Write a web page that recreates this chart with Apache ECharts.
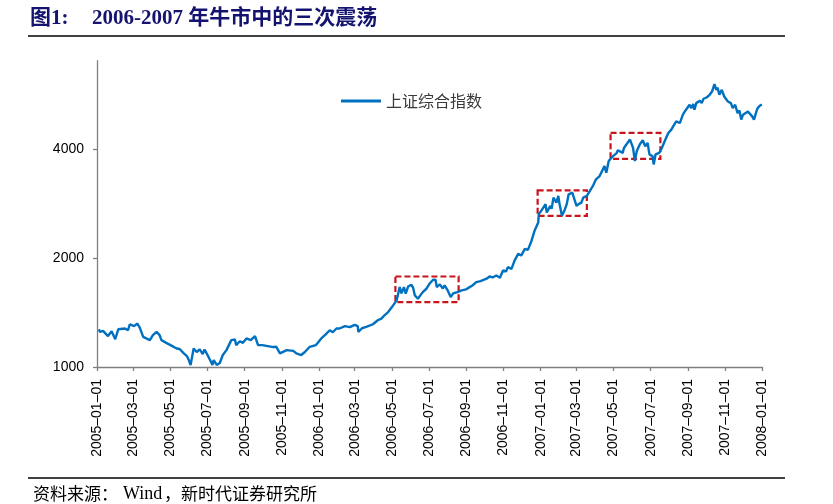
<!DOCTYPE html>
<html><head><meta charset="utf-8">
<script src="https://cdn.jsdelivr.net/npm/echarts@6/dist/echarts.min.js"></script>
<style>html,body{margin:0;padding:0;background:#fff}#c{width:833px;height:504px}</style>
</head><body><div id="c"></div>
<script>
const seriesName = '上证综合指数';
const dates = [
'2005-01-04','2005-01-06','2005-01-11','2005-01-19','2005-01-25','2005-01-31','2005-02-05','2005-02-16','2005-02-21','2005-02-24',
'2005-03-03','2005-03-08','2005-03-12','2005-03-18','2005-03-29','2005-04-03','2005-04-09','2005-04-14','2005-04-17','2005-04-25',
'2005-05-02','2005-05-12','2005-05-17','2005-05-23','2005-05-29','2005-06-01','2005-06-04','2005-06-09','2005-06-14','2005-06-19',
'2005-06-24','2005-06-27','2005-07-01','2005-07-06','2005-07-10','2005-07-12','2005-07-17','2005-07-22','2005-07-27','2005-08-02',
'2005-08-10','2005-08-16','2005-08-18','2005-08-24','2005-08-29','2005-09-04','2005-09-11','2005-09-18','2005-09-23','2005-09-30',
'2005-10-09','2005-10-18','2005-10-23','2005-10-29','2005-11-09','2005-11-20','2005-11-25','2005-12-03','2005-12-09','2005-12-17',
'2005-12-27','2006-01-05','2006-01-11','2006-01-19','2006-01-24','2006-01-30','2006-02-04','2006-02-13','2006-02-21','2006-03-01',
'2006-03-06','2006-03-07','2006-03-13','2006-03-20','2006-03-31','2006-04-08','2006-04-14','2006-04-19','2006-04-25','2006-05-01',
'2006-05-09','2006-05-14','2006-05-17','2006-05-21','2006-05-24','2006-05-28','2006-06-02','2006-06-05','2006-06-08','2006-06-13',
'2006-06-17','2006-06-21','2006-06-27','2006-07-02','2006-07-08','2006-07-12','2006-07-14','2006-07-19','2006-07-24','2006-07-27',
'2006-08-01','2006-08-06','2006-08-10','2006-08-13','2006-08-17','2006-08-24','2006-08-31','2006-09-06','2006-09-11','2006-09-17',
'2006-09-24','2006-10-04','2006-10-09','2006-10-14','2006-10-20','2006-10-26','2006-10-31','2006-11-05','2006-11-08','2006-11-14',
'2006-11-19','2006-11-25','2006-11-30','2006-12-06','2006-12-11','2006-12-17','2006-12-22','2006-12-28','2006-12-29','2007-01-03',
'2007-01-09','2007-01-11','2007-01-17','2007-01-19','2007-01-22','2007-01-27','2007-01-30','2007-02-01','2007-02-05','2007-02-09',
'2007-02-13','2007-02-16','2007-02-22','2007-02-25','2007-03-01','2007-03-05','2007-03-09','2007-03-12','2007-03-15','2007-03-18',
'2007-03-23','2007-03-28','2007-04-02','2007-04-08','2007-04-11','2007-04-16','2007-04-19','2007-04-23','2007-04-26','2007-04-30',
'2007-05-06','2007-05-08','2007-05-11','2007-05-16','2007-05-18','2007-05-22','2007-05-28','2007-05-30','2007-06-02','2007-06-05',
'2007-06-08','2007-06-13','2007-06-18','2007-06-22','2007-06-26','2007-06-29','2007-07-04','2007-07-06','2007-07-09','2007-07-15',
'2007-07-19','2007-07-24','2007-07-30','2007-08-04','2007-08-07','2007-08-12','2007-08-15','2007-08-18','2007-08-23','2007-08-27',
'2007-09-03','2007-09-06','2007-09-09','2007-09-11','2007-09-14','2007-09-20','2007-09-23','2007-09-26','2007-10-01','2007-10-06',
'2007-10-10','2007-10-14','2007-10-17','2007-10-19','2007-10-22','2007-10-26','2007-10-30','2007-11-02','2007-11-05','2007-11-10',
'2007-11-13','2007-11-17','2007-11-21','2007-11-24','2007-11-27','2007-11-30','2007-12-03','2007-12-08','2007-12-11','2007-12-15',
'2007-12-18','2007-12-22','2007-12-24','2007-12-28','2007-12-31'
];
const values = [
1270,1250,1258,1217,1255,1193,1271,1277,1263,1312,
1296,1318,1288,1211,1186,1224,1250,1224,1186,1166,
1149,1125,1121,1094,1072,1045,1013,1125,1100,1118,
1086,1118,1086,1045,1013,1045,1013,1026,1079,1113,
1186,1191,1149,1178,1166,1199,1186,1217,1149,1149,
1142,1135,1137,1090,1113,1108,1090,1079,1100,1137,
1149,1199,1224,1263,1247,1277,1277,1296,1288,1307,
1296,1250,1279,1290,1312,1346,1360,1389,1418,1461,
1527,1661,1596,1661,1593,1668,1686,1657,1576,1543,
1576,1609,1644,1697,1741,1741,1661,1690,1647,1679,
1627,1559,1596,1576,1609,1627,1637,1661,1679,1715,
1725,1752,1777,1766,1788,1763,1846,1835,1885,1866,
1966,2051,2030,2117,2104,2231,2377,2505,2641,2714,
2813,2668,2783,2731,2932,2842,2965,2819,2613,2697,
2819,2996,3027,3000,2783,2819,2842,2932,2904,2965,
3060,3158,3295,3364,3401,3583,3435,3699,3753,3818,
3890,3964,4008,3898,4022,4109,4242,4285,4022,3699,
3940,4109,4222,4067,4153,3859,3818,3622,3859,3898,
4008,4196,4423,4519,4614,4763,4814,4711,4969,5095,
5292,5180,5314,5127,5346,5427,5346,5497,5541,5636,
5756,6028,5818,5901,5636,5818,5577,5636,5404,5346,
5180,5292,5018,5105,4814,4969,4914,5072,5127,4914,
4814,5072,5180,5268,5300
];
const xTickDates = ['2005-01-01','2005-03-01','2005-05-01','2005-07-01','2005-09-01','2005-11-01',
'2006-01-01','2006-03-01','2006-05-01','2006-07-01','2006-09-01','2006-11-01',
'2007-01-01','2007-03-01','2007-05-01','2007-07-01','2007-09-01','2007-11-01','2008-01-01'];
const yTicks = [1000, 2000, 4000];
const yMin = 1000, yMax = 7000;
// dashed boxes around the three consolidations
const boxFrom = ['2006-05-07','2006-12-27','2007-04-26'];
const boxTo   = ['2006-08-19','2007-03-18','2007-07-17'];
const boxHigh = [1777, 3073, 4423];
const boxLow  = [1511, 2613, 3753];

const pad = n => (n < 10 ? '0' : '') + n;
const ts = s => { const p = s.split('-'); return Date.UTC(+p[0], +p[1] - 1, +p[2]); };
const fmtDate = v => { const d = new Date(v); return d.getUTCFullYear() + '\u2013' + pad(d.getUTCMonth() + 1) + '\u2013' + pad(d.getUTCDate()); };
const xTicks = xTickDates.map(ts);

const chart = echarts.init(document.getElementById('c'), null, {renderer: 'canvas'});
const lineData = dates.map((d, i) => [ts(d), values[i]]);
const boxData = boxFrom.map((f, i) => [
  {xAxis: ts(f), yAxis: boxHigh[i]},
  {xAxis: ts(boxTo[i]), yAxis: boxLow[i]}
]);
const axisGray = '#808080';
chart.setOption({
  animation: false,
  backgroundColor: '#fff',
  grid: {left: 97, right: 70.5, top: 60.7, bottom: 137, containLabel: false},
  legend: {
    data: [{name: seriesName, icon: 'rect'}],
    left: 336, top: 88, itemWidth: 40, itemHeight: 3,
    textStyle: {fontSize: 16, color: '#3a3a3a', fontFamily: 'Noto Sans CJK SC'}
  },
  xAxis: {
    type: 'value', min: xTicks[0], max: xTicks[xTicks.length - 1], scale: true,
    axisLine: {lineStyle: {color: axisGray, width: 1.3}},
    axisTick: {show: true, length: 4, inside: false, customValues: xTicks, lineStyle: {color: axisGray, width: 1.3}},
    splitLine: {show: false},
    axisLabel: {
      customValues: xTicks, rotate: 90, margin: 12,
      fontSize: 14, color: '#000', fontFamily: 'Liberation Sans, Arial',
      formatter: v => fmtDate(v)
    }
  },
  yAxis: {
    type: 'log', logBase: 2, min: yMin, max: yMax,
    axisLine: {show: true, lineStyle: {color: axisGray, width: 1.3}},
    axisTick: {show: true, length: 4, customValues: yTicks, lineStyle: {color: axisGray, width: 1.3}},
    splitLine: {show: false},
    axisLabel: {
      customValues: yTicks, margin: 13, fontSize: 14, color: '#000', fontFamily: 'Liberation Sans, Arial',
      formatter: v => String(Math.round(v))
    }
  },
  series: [{
    name: seriesName, type: 'line', data: lineData,
    showSymbol: false, symbol: 'none', smooth: false,
    lineStyle: {color: '#0070C0', width: 2.4},
    itemStyle: {color: '#0070C0'},
    markArea: {
      silent: true,
      itemStyle: {color: 'rgba(0,0,0,0)', borderColor: '#C8141C', borderWidth: 2.2, borderType: [6, 3]},
      emphasis: {disabled: true},
      data: boxData
    }
  }],
  graphic: [
    {type: 'text', left: 30, top: 8, style: {text: '图1:', font: 'bold 21px "Liberation Serif", "Noto Sans CJK SC"', fill: '#141470'}},
    {type: 'text', left: 92, top: 8, style: {text: '2006-2007 年牛市中的三次震荡', font: 'bold 21px "Liberation Serif", "Noto Sans CJK SC"', fill: '#141470'}},
    {type: 'line', shape: {x1: 28, y1: 36, x2: 785, y2: 36}, style: {stroke: '#000', lineWidth: 1.5}},
    {type: 'line', shape: {x1: 28, y1: 478, x2: 785, y2: 478}, style: {stroke: '#000', lineWidth: 1.5}},
    {type: 'text', x: 33, y: 494, style: {text: '资料来源：', font: '17px "Noto Sans CJK SC"', fill: '#000', textVerticalAlign: 'middle'}},
    {type: 'text', x: 123, y: 494, style: {text: 'Wind', font: '18px "Liberation Serif"', fill: '#000', textVerticalAlign: 'middle'}},
    {type: 'text', x: 164, y: 494, style: {text: '，新时代证券研究所', font: '17px "Noto Sans CJK SC"', fill: '#000', textVerticalAlign: 'middle', width: 162}}
  ]
});
</script>
</body></html>
